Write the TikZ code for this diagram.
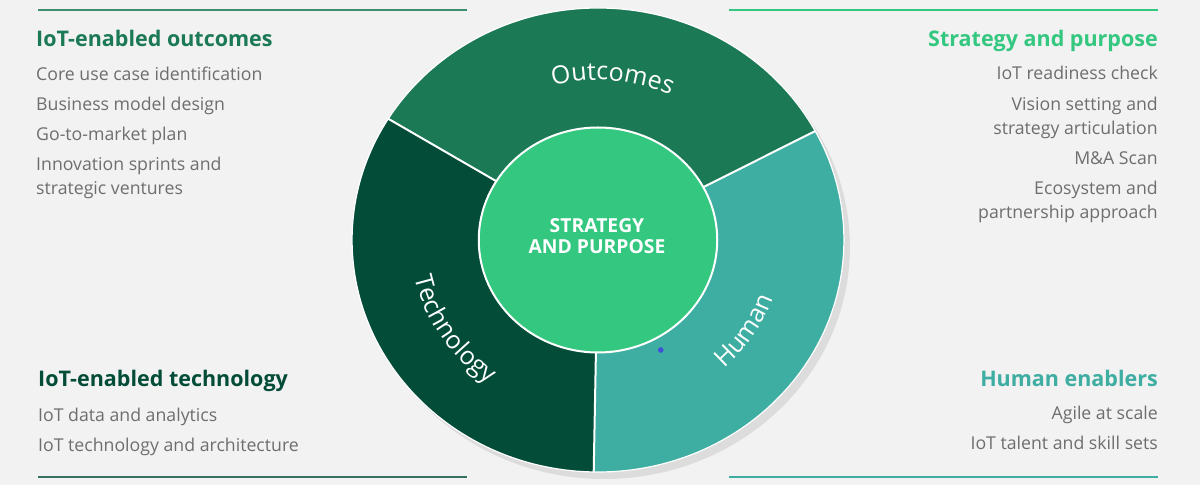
\documentclass[tikz,border=0pt]{standalone}
\usepackage{fontspec}
\setmainfont{Open Sans}
\usetikzlibrary{decorations.text}
\definecolor{bg}{HTML}{F2F2F2}
\definecolor{outc}{HTML}{1B7A55}
\definecolor{tech}{HTML}{024C38}
\definecolor{hum}{HTML}{3EADA2}
\definecolor{strat}{HTML}{33C77F}
\definecolor{bodyc}{HTML}{6E6E6E}
\definecolor{shad}{HTML}{DCDCDC}
\definecolor{dotc}{HTML}{3F51D6}
\tikzset{
  body/.style={inner sep=0pt, text=bodyc, font=\fontsize{17.7}{20}\selectfont},
  headl/.style={inner sep=0pt, font=\fontsize{21.5}{24}\selectfont\bfseries},
  rulel/.style={line width=2pt},
  divider/.style={draw=white, line width=2pt},
  seglabel/.style={decorate, decoration={text along path, text align=center, text color=white}},
}
\begin{document}
\begin{tikzpicture}[x=1pt,y=1pt]
\useasboundingbox (0,0) rectangle (1200,485);
\fill[bg] (0,0) rectangle (1200,485);

% rules
\coordinate (tlA) at (38,475); \coordinate (tlB) at (467,475);
\coordinate (trA) at (729,475); \coordinate (trB) at (1158,475);
\coordinate (blA) at (38,8.3); \coordinate (blB) at (467,8.3);
\coordinate (brA) at (729,8.3); \coordinate (brB) at (1158,8.3);
\draw[rulel, outc!85!white] (tlA) -- (tlB);
\draw[rulel, strat] (trA) -- (trB);
\draw[rulel, tech!80!white] (blA) -- (blB);
\draw[rulel, hum] (brA) -- (brB);

% shadow
\begin{scope}[shift={(604,238)}, xscale=1.06]
  \fill[shad] (0,0) circle (232);
\end{scope}

\begin{scope}[shift={(598,245)}, xscale=1.06]
  \fill[outc] (0,0) -- (28:232) arc[start angle=28, end angle=148.5, radius=232] -- cycle;
  \fill[tech] (0,0) -- (148.5:232) arc[start angle=148.5, end angle=269, radius=232] -- cycle;
  \fill[hum] (0,0) -- (269:232) arc[start angle=269, end angle=388, radius=232] -- cycle;
  \draw[white, line width=1.2pt] (0,0) circle (232);
  \coordinate (ctr) at (0,0);
  \coordinate (d1) at (28:232);
  \coordinate (d2) at (148.5:232);
  \coordinate (d3) at (269:232);
  \draw[divider] (ctr) -- (d1);
  \draw[divider] (ctr) -- (d2);
  \draw[divider] (ctr) -- (d3);
  \fill[strat, draw=white, line width=2pt] (0,0) circle (112.5);
  \path[seglabel, decoration={text={|\fontsize{25}{28}\selectfont|Outcomes}}]
    (127:160) arc[start angle=127, end angle=43, radius=160];
  \path[seglabel, decoration={text={|\fontsize{25}{28}\selectfont|Technology}}]
    (181:177) arc[start angle=181, end angle=245, radius=177];
  \path[seglabel, decoration={text={|\fontsize{25}{28}\selectfont|Human}}]
    (297:175) arc[start angle=297, end angle=357, radius=175];
\end{scope}

\node[inner sep=0pt, anchor=base, text=white, font=\fontsize{19.3}{22}\selectfont\bfseries] (c1) at (597,252) {STRATEGY};
\node[inner sep=0pt, anchor=base, text=white, font=\fontsize{19.3}{22}\selectfont\bfseries] (c2) at (597,231) {AND PURPOSE};

\fill[dotc] (660.7,135) circle (2.8);

% top-left
\node[headl, text=outc, anchor=base west] (h1) at (36,438.3) {IoT-enabled outcomes};
\node[body, anchor=base west] (a1) at (36,404.3) {Core use case identification};
\node[body, anchor=base west] (a2) at (36,374.3) {Business model design};
\node[body, anchor=base west] (a3) at (36,344.3) {Go-to-market plan};
\node[body, anchor=base west] (a4) at (36,314.3) {Innovation sprints and};
\node[body, anchor=base west] (a5) at (36,290.7) {strategic ventures};

% top-right
\node[headl, text=strat, anchor=base east] (h2) at (1158,438.3) {Strategy and purpose};
\node[body, anchor=base east] (b1) at (1158,405) {IoT readiness check};
\node[body, anchor=base east] (b2) at (1158,374.3) {Vision setting and};
\node[body, anchor=base east] (b3) at (1158,350.7) {strategy articulation};
\node[body, anchor=base east] (b4) at (1158,320.7) {M\&A Scan};
\node[body, anchor=base east] (b5) at (1158,290) {Ecosystem and};
\node[body, anchor=base east] (b6) at (1158,266.7) {partnership approach};

% bottom-left
\node[headl, text=tech, anchor=base west] (h3) at (38,99) {IoT-enabled technology};
\node[body, anchor=base west] (e1) at (38,63.3) {IoT data and analytics};
\node[body, anchor=base west] (e2) at (38,33.3) {IoT technology and architecture};

% bottom-right
\node[headl, text=hum, anchor=base east] (h4) at (1158,98.3) {Human enablers};
\node[body, anchor=base east] (f1) at (1158,65.7) {Agile at scale};
\node[body, anchor=base east] (f2) at (1158,35.7) {IoT talent and skill sets};
\end{tikzpicture}
\end{document}
